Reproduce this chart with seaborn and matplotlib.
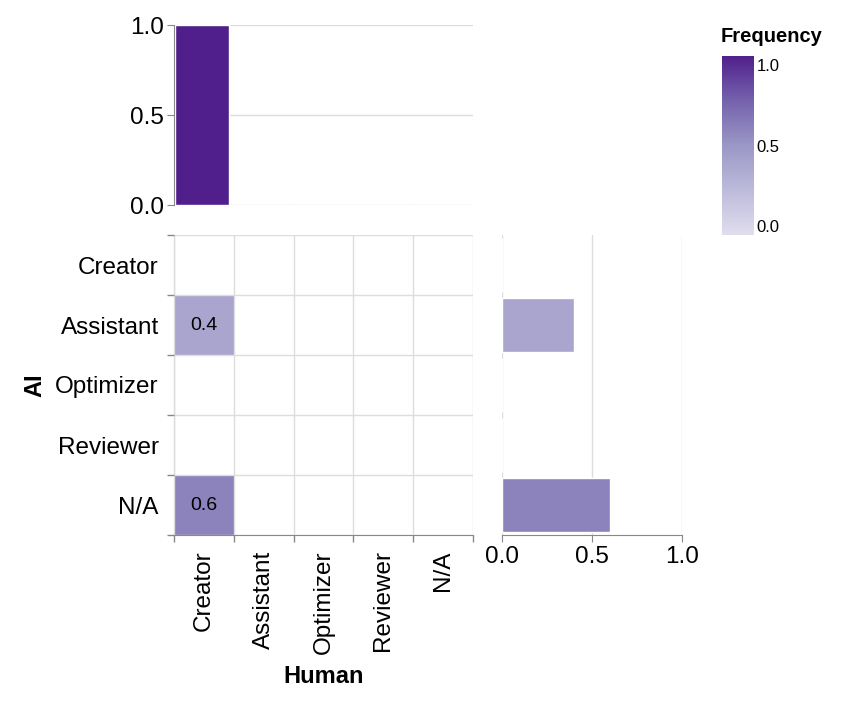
import numpy as np
import pandas as pd
import matplotlib
matplotlib.use("Agg")
import matplotlib.pyplot as plt
import seaborn as sns
from matplotlib.colors import LinearSegmentedColormap

sns.set_style("white")
plt.rcParams['font.family'] = ['Liberation Sans', 'DejaVu Sans']
plt.rcParams['text.color'] = 'black'
plt.rcParams['axes.labelcolor'] = 'black'
plt.rcParams['xtick.labelcolor'] = 'black'
plt.rcParams['ytick.labelcolor'] = 'black'

# data
human_roles = ['Creator', 'Assistant', 'Optimizer', 'Reviewer', 'N/A']
ai_roles = ['Creator', 'Assistant', 'Optimizer', 'Reviewer', 'N/A']
# rows = AI, columns = Human
freq = [
    [0.0, 0.0, 0.0, 0.0, 0.0],
    [0.4, 0.0, 0.0, 0.0, 0.0],
    [0.0, 0.0, 0.0, 0.0, 0.0],
    [0.0, 0.0, 0.0, 0.0, 0.0],
    [0.6, 0.0, 0.0, 0.0, 0.0],
]

mat = pd.DataFrame(freq, index=ai_roles, columns=human_roles)
human_freq = mat.sum(axis=0)
ai_freq = mat.sum(axis=1)

cmap = LinearSegmentedColormap.from_list(
    'purp', ['#e0deee', '#bdbbdb', '#9b97c6', '#7562ad', '#501f8b'])

GRID = '#dddddd'
AX = '#888888'
TICK_FS = 17.5

fig = plt.figure(figsize=(8.44, 7.06), dpi=100)
W, H = 844, 706

def box(x0, y0, x1, y1):
    return [x0 / W, 1 - y1 / H, (x1 - x0) / W, (y1 - y0) / H]

ax_hm = fig.add_axes(box(174, 235, 473, 535))
ax_top = fig.add_axes(box(174, 25, 473, 205))
ax_right = fig.add_axes(box(502, 235, 682, 535))
ax_cb = fig.add_axes(box(722, 56, 754, 235))

# heatmap
annot = mat.map(lambda v: f'{v:.1f}' if v > 0 else '')
sns.heatmap(mat, mask=(mat == 0), cmap=cmap, vmin=0, vmax=1, ax=ax_hm,
            cbar=False, annot=annot, fmt='', annot_kws={'fontsize': 14, 'color': 'black'})
ax_hm.set_xticks(np.arange(6), minor=False)
ax_hm.set_yticks(np.arange(6), minor=False)
ax_hm.set_xticklabels([])
ax_hm.set_yticklabels([])
ax_hm.set_xticks(np.arange(5) + 0.5, minor=True)
ax_hm.set_yticks(np.arange(5) + 0.5, minor=True)
ax_hm.set_xticklabels(human_roles, minor=True, rotation=90, fontsize=TICK_FS, va='top')
ax_hm.set_yticklabels(ai_roles, minor=True, rotation=0, fontsize=TICK_FS)
ax_hm.tick_params(which='minor', length=0, pad=11)
ax_hm.tick_params(which='major', length=5, width=1, color=AX, bottom=True, left=True)
ax_hm.grid(True, which='major', color=GRID, linewidth=1)
ax_hm.set_axisbelow(False)
for s in ['top', 'right']:
    ax_hm.spines[s].set_visible(False)
for s in ['left', 'bottom']:
    ax_hm.spines[s].set_visible(True)
    ax_hm.spines[s].set_color(AX)
ax_hm.set_xlabel('Human', fontsize=17, fontweight='bold', labelpad=8)
ax_hm.set_ylabel('AI', fontsize=17, fontweight='bold', labelpad=6)
ax_hm.set_xlim(0, 5)
ax_hm.set_ylim(5, 0)

# top marginal
top_df = pd.DataFrame({'role': human_roles, 'value': human_freq.values})
sns.barplot(data=top_df, x='role', y='value', hue='role', legend=False,
            palette=[cmap(v) for v in top_df['value']], width=0.9, ax=ax_top,
            saturation=1)
ax_top.set_xlim(-0.47, 4.53)
ax_top.set_ylim(0, 1)
ax_top.set_yticks([0, 0.5, 1.0])
ax_top.set_yticklabels(['0.0', '0.5', '1.0'], fontsize=TICK_FS)
ax_top.set_xticks([])
ax_top.set_xlabel('')
ax_top.set_ylabel('')
ax_top.yaxis.grid(True, color=GRID, linewidth=1)
ax_top.set_axisbelow(True)
ax_top.tick_params(axis='y', length=5, color=AX, left=True, pad=2)
for s in ['top', 'right', 'bottom']:
    ax_top.spines[s].set_visible(False)
ax_top.spines['left'].set_color(AX)

# right marginal
right_df = pd.DataFrame({'role': ai_roles, 'value': ai_freq.values})
sns.barplot(data=right_df, y='role', x='value', hue='role', legend=False,
            palette=[cmap(v) for v in right_df['value']], width=0.9, ax=ax_right,
            orient='h', saturation=1)
ax_right.set_ylim(4.5, -0.5)
ax_right.set_xlim(0, 1)
ax_right.set_xticks([0, 0.5, 1.0])
ax_right.set_xticklabels(['0.0', '0.5', '1.0'], fontsize=TICK_FS)
ax_right.set_yticks([])
ax_right.set_xlabel('')
ax_right.set_ylabel('')
ax_right.xaxis.grid(True, color=GRID, linewidth=1)
ax_right.set_axisbelow(True)
ax_right.tick_params(axis='x', length=5, color=AX, bottom=True, pad=3)
for s in ['top', 'right', 'left']:
    ax_right.spines[s].set_visible(False)
ax_right.spines['bottom'].set_color(AX)

# colorbar
grad = np.linspace(1, 0, 256).reshape(-1, 1)
ax_cb.imshow(grad, cmap=cmap, vmin=0, vmax=1, aspect='auto', extent=[0, 1, 0, 1])
ax_cb.set_xticks([])
ax_cb.yaxis.tick_right()
ax_cb.set_yticks([0.05, 0.5, 0.95])
ax_cb.set_yticklabels(['0.0', '0.5', '1.0'], fontsize=12)
ax_cb.tick_params(axis='y', length=0, pad=2)
for s in ax_cb.spines.values():
    s.set_visible(False)
fig.text(721 / W, 1 - 36 / H, 'Frequency', fontsize=14.5, fontweight='bold',
         ha='left', va='center')

fig.savefig('out.png', dpi=100)
